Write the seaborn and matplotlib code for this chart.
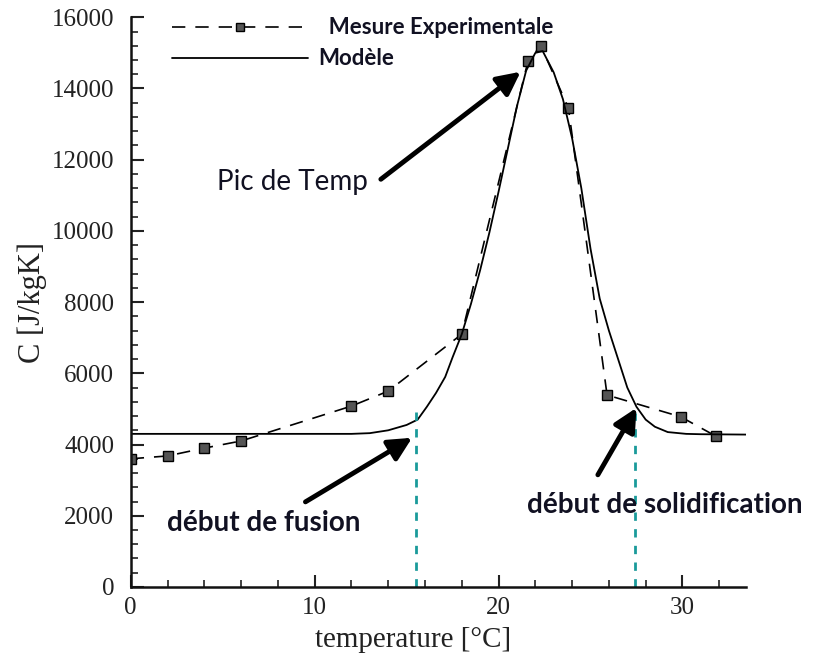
import matplotlib.pyplot as plt
import seaborn as sns
import pandas as pd

# mesures experimentales
temp_mes = [0, 2, 4, 6, 12, 14, 18, 21.6, 22.3, 23.8, 25.9, 29.9, 31.8]
c_mes = [3600, 3680, 3900, 4100, 5080, 5500, 7100, 14770, 15200, 13450, 5390, 4780, 4240]

# modele
temp_mod = [0, 6, 12, 13, 14, 15, 15.6, 16.1, 16.6, 17.1, 17.5, 18, 18.5, 19, 19.5,
            20, 20.5, 21, 21.5, 22, 22.4, 23, 23.5, 24, 24.5, 25, 25.5, 26, 26.5,
            27, 27.5, 28, 28.5, 29.2, 30.2, 31, 33.45]
c_mod = [4300, 4300, 4300, 4320, 4400, 4550, 4700, 5060, 5450, 5900, 6450, 7100,
         7950, 8900, 9950, 11100, 12300, 13500, 14500, 15000, 15050, 14450, 13700,
         12600, 11200, 9500, 8100, 7200, 6400, 5600, 5060, 4700, 4500, 4350, 4300,
         4290, 4280]

# debut de fusion / solidification
t_debut = [15.5, 27.4]
c_debut = [5060, 4900]

mes = pd.DataFrame({'temp': temp_mes, 'C': c_mes})
mod = pd.DataFrame({'temp': temp_mod, 'C': c_mod})

sns.set_style("ticks")
plt.rcParams['font.family'] = ['Liberation Serif', 'DejaVu Serif']

fig = plt.figure(figsize=(8.17, 6.64), dpi=100)
ax = fig.add_axes([0.16, 0.116, 0.753, 0.858])

sns.lineplot(x='temp', y='C', data=mes, ax=ax, color='black', linewidth=1.2,
             linestyle=(0, (8, 6)), marker='s', markersize=7,
             markerfacecolor='#555555', markeredgecolor='black', markeredgewidth=1)
sns.lineplot(x='temp', y='C', data=mod, ax=ax, color='black', linewidth=1.3)

for t, c in zip(t_debut, c_debut):
    ax.plot([t, t], [0, c], color='#1a9a9a', linewidth=2, linestyle=(0, (3, 3)))

ax.set_xlim(0, 33.45)
ax.set_ylim(0, 16000)
ax.set_xticks([0, 10, 20, 30])
ax.set_xticks(range(0, 34, 2), minor=True)
ax.set_yticks(range(0, 16001, 2000))
ax.set_yticks(range(0, 16001, 400), minor=True)
ax.tick_params(which='major', direction='in', length=9, width=1.5, labelsize=18,
               colors='#222222')
ax.tick_params(axis='y', which='major', pad=12)
ax.tick_params(axis='x', which='major', pad=7)
ax.tick_params(which='minor', direction='in', length=5, width=1.2, colors='#222222')
sns.despine(ax=ax)
for s in ['left', 'bottom']:
    ax.spines[s].set_linewidth(1.8)
    ax.spines[s].set_color('#111111')

ax.set_xlabel('temperature [°C]', fontsize=21, color='#222222')
ax.set_ylabel('C [J/kgK]', fontsize=22, color='#222222', labelpad=3)
ax.xaxis.set_label_coords(0.459, -0.07)

txt = dict(family=['Lato', 'DejaVu Sans'], color='#111122')
arrow = dict(arrowstyle='-|>,head_length=1.4,head_width=0.7', color='black', lw=3.5,
             shrinkA=0, shrinkB=0)
ax.annotate('', xy=(21.2, 14470), xytext=(13.6, 11450), arrowprops=arrow)
ax.text(8.8, 11380, 'Pic de Temp', fontsize=20, ha='center', va='center', **txt)
ax.annotate('', xy=(15.3, 4190), xytext=(9.5, 2390), arrowprops=arrow)
ax.text(7.25, 1800, 'début de fusion', fontsize=20, fontweight='bold',
        ha='center', va='center', **txt)
ax.annotate('', xy=(27.5, 5030), xytext=(25.4, 3150), arrowprops=arrow)
ax.text(29.05, 2300, 'début de solidification', fontsize=20, fontweight='bold',
        ha='center', va='center', clip_on=False, **txt)

lines = ax.get_lines()
leg = ax.legend([lines[0], lines[1]], ['  Mesure Experimentale', 'Modèle'],
                loc='upper left', bbox_to_anchor=(0.035, 1.035), frameon=False,
                handlelength=6.1, handletextpad=0.45, numpoints=1, labelspacing=0.45,
                markerscale=0.8, prop=dict(family='Lato', weight='bold', size=16))
for t in leg.get_texts():
    t.set_color('#111122')

fig.savefig('out.png', dpi=100)
plt.close(fig)
